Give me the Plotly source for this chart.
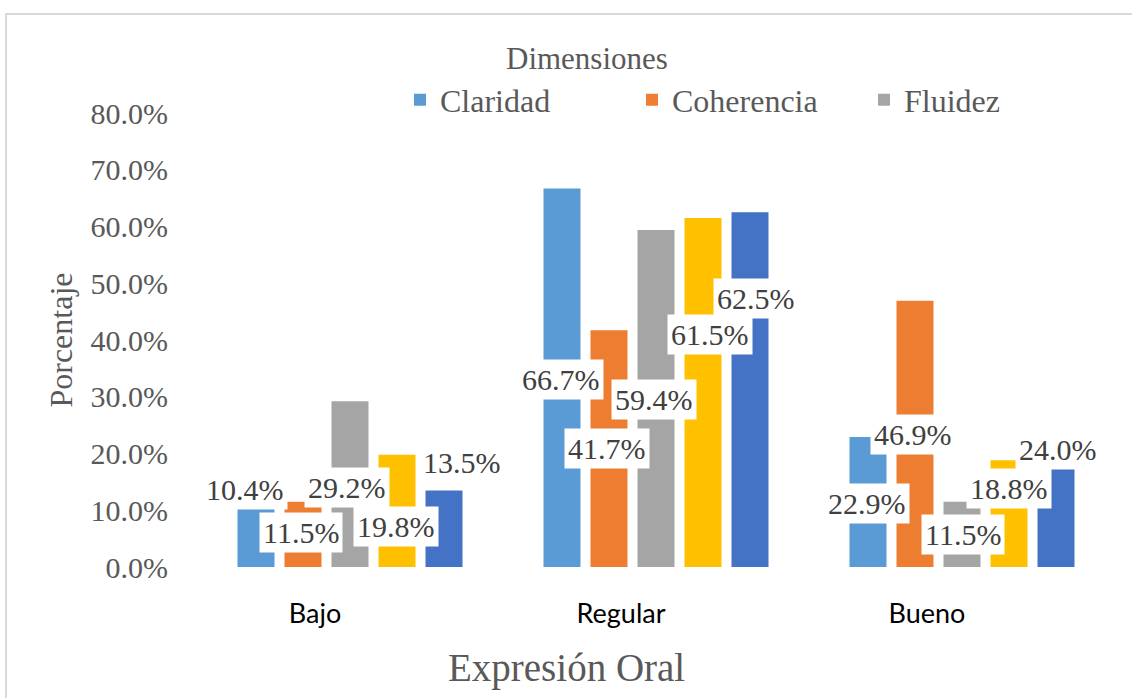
import plotly.graph_objects as go

categories = ["Bajo", "Regular", "Bueno"]
series_names = ["Claridad", "Coherencia", "Fluidez", "Serie 4", "Serie 5"]
claridad = [0.104, 0.667, 0.229]
coherencia = [0.115, 0.417, 0.469]
fluidez = [0.292, 0.594, 0.115]
serie4 = [0.198, 0.615, 0.188]
serie5 = [0.135, 0.625, 0.240]
series_values = [claridad, coherencia, fluidez, serie4, serie5]
in_legend = [True, True, True, False, False]
legend_title = "Dimensiones"
x_title = "Expresión Oral"
y_title = "Porcentaje"

colors = ["#5B9BD5", "#ED7D31", "#A5A5A5", "#FFC000", "#4472C4"]

# label offsets (pixels) relative to bar centre / bar top: (dx, dy-down)
label_offsets = [
    [(-11, -18), (-1, 191), (-1, 66)],
    [(-2, 31), (-2, 118), (-2, 134)],
    [(-3, 86), (-2, 170), (1, 33)],
    [(-1, 72), (7, 117), (0, 28)],
    [(18, -28), (6, 86), (2, 19)],
]

W, H = 1132, 698
L, R, T, B = 197, 1115, 113, 567
bargap = 0.232
bargroupgap = 0.213
n = len(series_names)
slot = (1 - bargap) / n

fig = go.Figure()
for i, (name, vals) in enumerate(zip(series_names, series_values)):
    fig.add_trace(go.Bar(
        x=categories, y=vals, name=name,
        marker=dict(color=colors[i], line=dict(width=0)),
        showlegend=in_legend[i],
    ))

serif = "Liberation Serif"
annotations = []
for i, vals in enumerate(series_values):
    for c, v in enumerate(vals):
        dx, dy = label_offsets[i][c]
        annotations.append(dict(
            x=c + (i - (n - 1) / 2) * slot, y=v, xref="x", yref="y",
            xshift=dx, yshift=-dy,
            text=f"{v*100:.1f}%", showarrow=False,
            font=dict(family=serif, size=30, color="#404040"),
            bgcolor="white", borderpad=3,
            xanchor="center", yanchor="middle",
        ))

def px_x(p):
    return (p - L) / (R - L)

def px_y(p):
    return (B - p) / (B - T)

annotations.append(dict(
    x=px_x(587), y=px_y(58), xref="paper", yref="paper",
    text=legend_title, showarrow=False,
    font=dict(family=serif, size=31, color="#595959"),
    xanchor="center", yanchor="middle",
))
annotations.append(dict(
    x=px_x(566), y=px_y(668), xref="paper", yref="paper",
    text=x_title, showarrow=False,
    font=dict(family=serif, size=39, color="#595959"),
    xanchor="center", yanchor="middle",
))

fig.update_layout(
    width=W, height=H,
    font=dict(family=serif),
    margin=dict(l=L, r=W - R, t=T, b=H - B, pad=0),
    paper_bgcolor="white", plot_bgcolor="white",
    barmode="group", bargap=bargap, bargroupgap=bargroupgap,
    annotations=annotations,
    legend=dict(
        orientation="h", x=px_x(400), xanchor="left", y=px_y(100), yanchor="middle",
        font=dict(family=serif, size=32, color="#595959"),
        entrywidth=187, entrywidthmode="pixels",
        bgcolor="rgba(0,0,0,0)",
    ),
    shapes=[dict(type="rect", xref="paper", yref="paper",
                 x0=px_x(6), x1=px_x(1140), y0=px_y(14), y1=px_y(710),
                 line=dict(color="#D9D9D9", width=2), fillcolor="rgba(0,0,0,0)",
                 layer="below")],
    xaxis=dict(
        type="category", showgrid=False, showline=False, zeroline=False,
        ticks="", ticklabelshift=-35, ticklabelstandoff=28,
        tickfont=dict(family="Lato", size=27, color="black"),
    ),
    yaxis=dict(
        range=[0, 0.8], dtick=0.1, tick0=0, tickformat=".1%",
        showgrid=False, showline=False, zeroline=False, ticks="",
        ticklabelstandoff=28,
        tickfont=dict(family=serif, size=30, color="#595959"),
        title=dict(text=y_title, standoff=8,
                   font=dict(family=serif, size=32, color="#595959")),
    ),
)

fig.write_html("out.html", config={"displayModeBar": False},
               post_script="document.body.style.margin='0';")
